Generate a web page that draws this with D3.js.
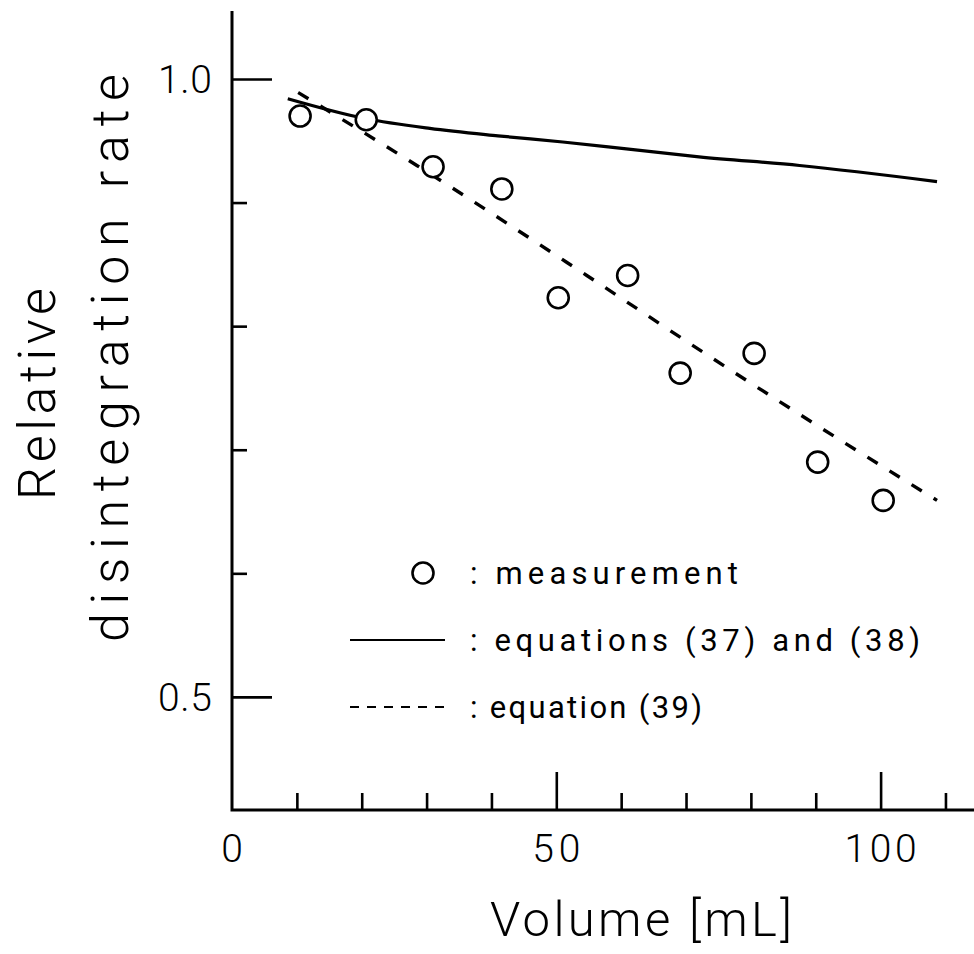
<!DOCTYPE html>
<html>
<head>
<meta charset="utf-8">
<script src="https://cdn.jsdelivr.net/npm/d3@7"></script>
<style>
  body { margin: 0; background: #fff; }
  svg { display: block; }
  text { font-family: Roboto, "DejaVu Sans", sans-serif; fill: #000; }
</style>
</head>
<body>
<div id="chart"></div>
<script>
// valeurs
const volume = [10.5, 20.7, 31.0, 41.6, 50.3, 61.0, 69.1, 80.5, 90.3, 100.4];
const measured = [0.970, 0.967, 0.929, 0.911, 0.823, 0.841, 0.762, 0.778, 0.690, 0.659];

// equations (37) and (38)
const eq3738Volume = [8.6, 20.5, 30.5, 41.0, 51.0, 61.5, 72.0, 87.5, 108.7];
const eq3738Rate = [0.984, 0.968, 0.960, 0.954, 0.949, 0.943, 0.937, 0.930, 0.917];

// equation (39)
const eq39Volume = [10.2, 28.5, 54.7, 72.9, 90.7, 108.7];
const eq39Rate = [0.989, 0.930, 0.841, 0.778, 0.718, 0.659];

// ticks
const xMinorTicks = [10, 20, 30, 40, 60, 70, 80, 90, 110];
const xMajorTicks = [50, 100];
const xLabels = [0, 50, 100];
const yMinorTicks = [0.9, 0.8, 0.7, 0.6];
const yMajorTicks = [1.0, 0.5];

const width = 974;
const height = 954;

const svg = d3.select('#chart')
    .append('svg')
    .attr('width', width)
    .attr('height', height);

const x = d3.scaleLinear().domain([0, 114.4]).range([232, 974]);
const y = d3.scaleLinear().domain([0.4085, 1.055]).range([810, 11]);

// ticks de l'axe X (vers l'intérieur)
svg.append('g')
    .attr('transform', `translate(0,${y(0.4085)})`)
    .call(d3.axisBottom(x).tickValues(xMinorTicks).tickSize(-17).tickFormat(''))
    .call(g => g.select('.domain').remove());
svg.append('g')
    .attr('transform', `translate(0,${y(0.4085)})`)
    .call(d3.axisBottom(x).tickValues(xMajorTicks).tickSize(-38).tickFormat(''))
    .call(g => g.select('.domain').remove());

// ticks de l'axe Y
svg.append('g')
    .attr('transform', `translate(${x(0)},0)`)
    .call(d3.axisLeft(y).tickValues(yMinorTicks).tickSize(-15).tickFormat(''))
    .call(g => g.select('.domain').remove());
svg.append('g')
    .attr('transform', `translate(${x(0)},0)`)
    .call(d3.axisLeft(y).tickValues(yMajorTicks).tickSize(-40).tickFormat(''))
    .call(g => g.select('.domain').remove());

svg.selectAll('.tick line')
    .attr('stroke', '#000')
    .attr('stroke-width', 2.6);

// lignes des axes
svg.append('path')
    .attr('d', `M${x(0)},${y(1.055)}V${y(0.4085)}H${x(114.4)}`)
    .attr('fill', 'none')
    .attr('stroke', '#000')
    .attr('stroke-width', 3);

// labels des ticks
svg.selectAll('.xlabel')
    .data(xLabels)
    .enter()
    .append('text')
    .attr('x', d => x(d))
    .attr('y', 862)
    .attr('text-anchor', 'middle')
    .attr('textLength', d => String(d).length * 24)
    .attr('lengthAdjust', 'spacing')
    .style('font-size', '39px')
    .style('font-weight', 300)
    .text(d => d);

svg.selectAll('.ylabel')
    .data(yMajorTicks)
    .enter()
    .append('text')
    .attr('x', 212)
    .attr('y', d => y(d))
    .attr('dy', '0.36em')
    .attr('text-anchor', 'end')
    .attr('textLength', 54)
    .attr('lengthAdjust', 'spacing')
    .style('font-size', '39px')
    .style('font-weight', 300)
    .text(d => d.toFixed(1));

// titres des axes
svg.append('text')
    .attr('x', 490)
    .attr('y', 936)
    .attr('textLength', 302)
    .attr('lengthAdjust', 'spacing')
    .style('font-size', '49px')
    .style('font-weight', 300)
    .text('Volume [mL]');

svg.append('text')
    .attr('transform', 'translate(55,500) rotate(-90)')
    .attr('textLength', 212)
    .attr('lengthAdjust', 'spacing')
    .style('font-size', '52px')
    .style('font-weight', 300)
    .text('Relative');

svg.append('text')
    .attr('transform', 'translate(128,642) rotate(-90)')
    .attr('textLength', 568)
    .attr('lengthAdjust', 'spacing')
    .style('font-size', '52px')
    .style('font-weight', 300)
    .text('disintegration rate');

// courbes
const line = d3.line()
    .x(d => x(d[0]))
    .y(d => y(d[1]))
    .curve(d3.curveMonotoneX);

svg.append('path')
    .datum(d3.zip(eq3738Volume, eq3738Rate))
    .attr('d', line)
    .attr('fill', 'none')
    .attr('stroke', '#000')
    .attr('stroke-width', 3.2);

svg.append('path')
    .datum(d3.zip(eq39Volume, eq39Rate))
    .attr('d', line)
    .attr('fill', 'none')
    .attr('stroke', '#000')
    .attr('stroke-width', 3.4)
    .attr('stroke-dasharray', '12,14');

// points de mesure
svg.selectAll('circle.pt')
    .data(d3.zip(volume, measured))
    .enter()
    .append('circle')
    .attr('class', 'pt')
    .attr('cx', d => x(d[0]))
    .attr('cy', d => y(d[1]))
    .attr('r', 10.5)
    .attr('fill', '#fff')
    .attr('stroke', '#000')
    .attr('stroke-width', 2.6);

// légende
const legend = svg.append('g');
legend.append('circle')
    .attr('cx', 423).attr('cy', 573).attr('r', 10.5)
    .attr('fill', 'none').attr('stroke', '#000').attr('stroke-width', 2.6);
legend.append('line')
    .attr('x1', 350).attr('x2', 445).attr('y1', 640).attr('y2', 640)
    .attr('stroke', '#000').attr('stroke-width', 2.2);
legend.append('line')
    .attr('x1', 350).attr('x2', 452).attr('y1', 707).attr('y2', 707)
    .attr('stroke', '#000').attr('stroke-width', 2.2)
    .attr('stroke-dasharray', '9,8');

const legendItems = [
    { label: ': measurement', y: 573, w: 268 },
    { label: ': equations (37) and (38)', y: 640, w: 450 },
    { label: ': equation (39)', y: 707, w: 232 }
];
legend.selectAll('text')
    .data(legendItems)
    .enter()
    .append('text')
    .attr('x', 470)
    .attr('y', d => d.y)
    .attr('dy', '0.36em')
    .attr('textLength', d => d.w)
    .attr('lengthAdjust', 'spacing')
    .style('font-size', '31px')
    .text(d => d.label);
</script>
</body>
</html>
